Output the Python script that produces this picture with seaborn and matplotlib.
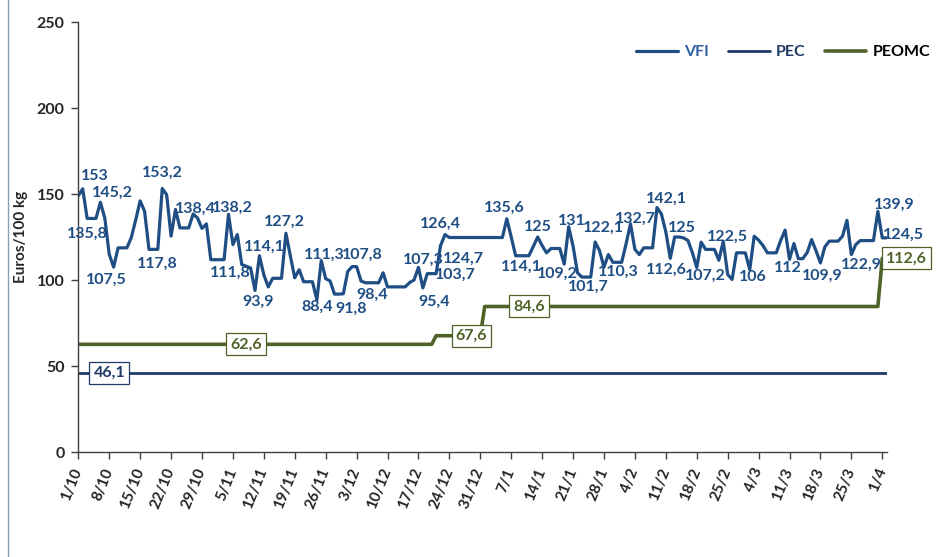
import seaborn as sns
import matplotlib.pyplot as plt
from matplotlib.lines import Line2D

# x axis: one point per day, 1/10 .. 1/4 (+1 day)
tick_labels = ['1/10', '8/10', '15/10', '22/10', '29/10', '5/11', '12/11', '19/11',
               '26/11', '3/12', '10/12', '17/12', '24/12', '31/12', '7/1', '14/1',
               '21/1', '28/1', '4/2', '11/2', '18/2', '25/2', '4/3', '11/3', '18/3',
               '25/3', '1/4']

vfi = [149, 153, 135.8, 135.8, 135.8, 145.2, 136,
       115, 107.5, 118.7, 118.7, 118.7, 124.7, 135,
       146, 140, 117.8, 117.8, 117.8, 153.2, 149.6,
       125.5, 141, 130.3, 130.3, 130.3, 138.4, 136,
       130, 132.6, 111.8, 111.8, 111.8, 111.8, 138.2,
       120.6, 126.4, 109, 108, 107, 93.9, 114.1,
       103, 96, 101, 101, 101, 127.2, 114,
       101.3, 106, 99, 99, 99, 88.4, 111.3,
       100.8, 99.4, 91.8, 91.8, 92, 105, 107.8,
       107.8, 99.4, 98.4, 98.4, 98.4, 98.4, 104.2,
       96, 96, 96, 96, 96, 98.5, 100,
       107.3, 95.4, 103.7, 103.7, 103.7, 120, 126.4,
       124.7, 124.7, 124.7, 124.7, 124.7, 124.7, 124.7,
       124.7, 124.7, 124.7, 124.7, 124.7, 124.7, 135.6,
       125, 114.1, 114.1, 114.1, 114.1, 119.5, 125,
       120, 115.8, 118.3, 118.3, 118.3, 109.2, 131,
       119.7, 104.2, 101.7, 101.7, 101.7, 122.1, 117,
       107.5, 114.8, 110.3, 110.3, 110.3, 121, 132.7,
       117.8, 114.8, 118.7, 118.7, 118.7, 142.1, 138.4,
       128, 112.6, 125, 125, 124.5, 123, 116,
       107.2, 122, 117.8, 117.8, 117.8, 111.5, 122.5,
       103.2, 100.3, 115.8, 115.8, 115.8, 106, 125.5,
       123.2, 120, 115.8, 115.8, 115.8, 123, 129,
       112, 121.2, 112.4, 112.4, 116, 123.5, 117,
       109.9, 119.3, 122.6, 122.6, 122.6, 125.5, 134.7,
       114.8, 120.6, 122.9, 122.9, 122.9, 122.9, 139.9,
       124.5, 124.5]
vfi_days = list(range(len(vfi)))

pec_days = [0, 183]
pec = [46.1, 46.1]

peomc_days = [0, 80, 81, 91, 92, 181, 182]
peomc = [62.6, 62.6, 67.6, 67.6, 84.6, 84.6, 112.6]

# labelled points
vfi_label_days = [1, 3, 5, 8, 17, 19, 26, 34, 32, 40, 41, 47, 54, 55, 62, 59, 66,
                  77, 78, 79, 83, 84, 97, 100, 104, 110, 111, 115, 117, 121, 125,
                  131, 134, 136, 140, 146, 152, 161, 168, 177, 181, 182]
vfi_label_offsets = [(9, 9), (-3, -11), (9, 7), (-5, -9), (3, -10.5), (0, 11), (1.5, 4),
                     (2.5, 4.5), (7.5, -9.5), (2.5, -8), (3.5, 6.5), (-1.3, 8.4), (0, -5),
                     (2, 4.5), (7, 8.5), (9, -10.5), (2, -9), (3.5, 5.5), (8, -10),
                     (20, -1), (-3, 8), (10, -15), (-2, 8), (1, -8), (0, 7), (-5, -7),
                     (2, 4), (1.5, -7), (6, 10.5), (4, -7), (3.5, 3.5), (7, 6),
                     (-3, -8.5), (2, 6.5), (6, -6), (3, 3.5), (2.5, -5.6), (-1, -6.5),
                     (1, -9), (1, -17.5), (12, 4.6), (15.5, 2)]
peomc_label_days = [38, 89, 102, 182]
peomc_label_values = [62.6, 67.6, 84.6, 112.6]
peomc_label_dx = [0, 0, 0, 17.5]
pec_label_day = 7

c_vfi = '#1F4E84'
c_pec = '#1F3A66'
c_peomc = '#4F6228'

sns.set_theme(style='white')
plt.rcParams['font.family'] = ['Lato', 'DejaVu Sans']
plt.rcParams['font.weight'] = 'bold'

fig = plt.figure(figsize=(9.4, 5.57), dpi=100)
ax = fig.add_axes([0.0833, 0.1885, 0.86, 0.772])

sns.lineplot(x=vfi_days, y=vfi, ax=ax, color=c_vfi, lw=2.3, label='VFI')
sns.lineplot(x=pec_days, y=pec, ax=ax, color=c_pec, lw=2.0, label='PEC')
sns.lineplot(x=peomc_days, y=peomc, ax=ax, color=c_peomc, lw=2.6, label='PEOMC')

fmt = lambda v: f'{v:g}'.replace('.', ',')

for d, (dx, dy) in zip(vfi_label_days, vfi_label_offsets):
    v = vfi[d]
    ax.annotate(fmt(v), (d, v), xytext=(dx, dy), textcoords='offset points',
                ha='center', va='center', fontsize=11.5, fontweight='bold',
                color=c_vfi, annotation_clip=False)

for d, v, dx in zip(peomc_label_days, peomc_label_values, peomc_label_dx):
    ax.annotate(fmt(v), (d, v), xytext=(dx, 0), textcoords='offset points',
                ha='center', va='center', fontsize=11.5, fontweight='bold',
                color=c_peomc, annotation_clip=False,
                bbox=dict(boxstyle='square,pad=0.25', fc='white', ec=c_peomc, lw=0.9))

ax.annotate(fmt(pec[0]), (pec_label_day, pec[0]), xytext=(0, 0), textcoords='offset points',
            ha='center', va='center', fontsize=11.5, fontweight='bold', color=c_pec,
            bbox=dict(boxstyle='square,pad=0.25', fc='white', ec=c_pec, lw=0.9))

ax.set_xlim(0, 183)
ax.set_ylim(0, 250)
ax.set_yticks(range(0, 251, 50))
ax.set_xticks(range(0, 183, 7))
ax.set_xticklabels(tick_labels, rotation=68, ha='right', va='center',
                   rotation_mode='anchor', fontsize=11, fontweight='bold')
for t in ax.get_yticklabels():
    t.set_fontsize(11.5)
    t.set_fontweight('bold')
ax.tick_params(axis='both', direction='out', length=5, width=1, color='#404040',
               bottom=True, left=True)
ax.tick_params(axis='x', pad=7)
ax.tick_params(axis='y', pad=5)
ax.set_ylabel('Euros/100 kg', fontsize=11, fontweight='bold', labelpad=6)
ax.set_xlabel('')
sns.despine(ax=ax)
for s in ['left', 'bottom']:
    ax.spines[s].set_color('#404040')
    ax.spines[s].set_linewidth(1)

leg = ax.legend(loc='center', bbox_to_anchor=(0.872, 0.93), ncol=3, frameon=False,
                handlelength=2.6, columnspacing=1.2, handletextpad=0.4,
                prop={'size': 11.5, 'weight': 'bold'})
for t, c in zip(leg.get_texts(), ['#2F5F9E', c_pec, 'black']):
    t.set_color(c)

fig.add_artist(Line2D([8 / 940, 8 / 940], [0, 1], transform=fig.transFigure,
                      color='#8A9DB5', lw=1))

fig.savefig('out.png', dpi=100)
